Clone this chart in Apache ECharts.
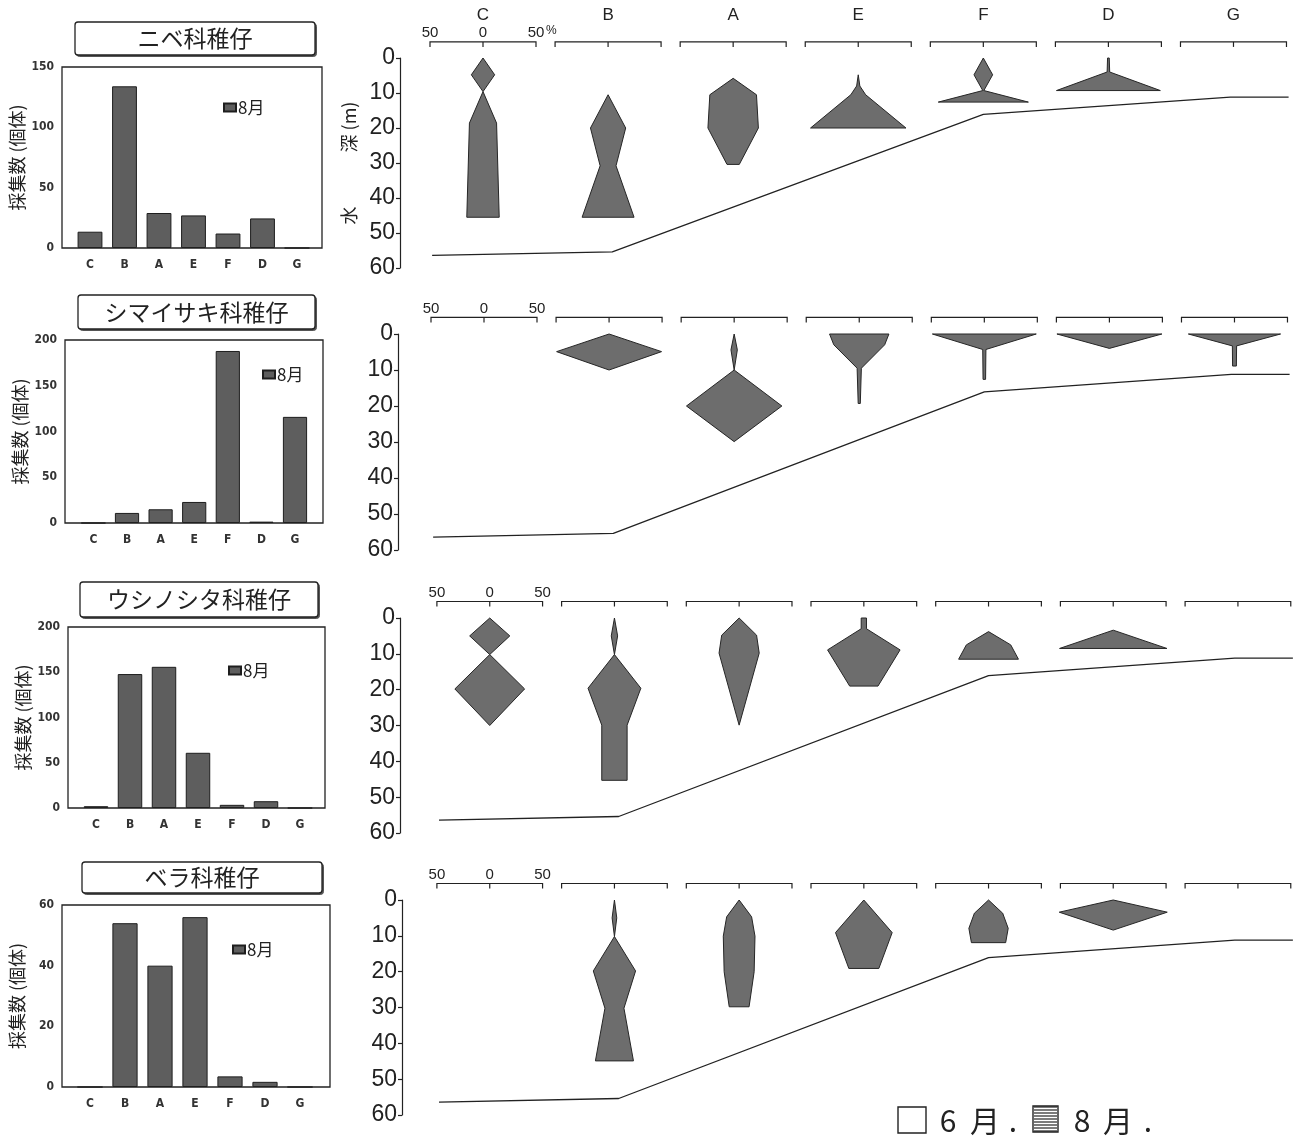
<!DOCTYPE html>
<html><head><meta charset="utf-8">
<script src="https://cdn.jsdelivr.net/npm/echarts@6/dist/echarts.min.js"></script>
<style>html,body{margin:0;padding:0;background:#fff}#c{width:1295px;height:1140px}</style>
</head><body><div id="c"></div>
<script>
// ---------------- data ----------------
const stations = ['C','B','A','E','F','D','G'];
const families = ['ニベ科稚仔','シマイサキ科稚仔','ウシノシタ科稚仔','ベラ科稚仔'];
const monthName = '8月';
// catch counts (個体) per station, August
const countNibe = [13.5,134,29,27,12,24.5,0];
const countShimaisaki = [0,11,15,23,188,1.5,116];
const countUshinoshita = [2,148,156,61,3.5,7.5,0];
const countBera = [0,54,40,56,3.5,1.7,0];
const countMax = [150,200,200,60];
const countStep = [50,50,50,20];
// depth axis (m)
const depthMin = 0, depthMax = 60, depthStep = 10;
// scale bar tick labels (%)
const scaleLabels = ['50','0','50'];
// sea floor profile [x in % units along transect, depth m]
const seafloor = [[-48,56.4],[122,55.4],[472,16.1],[705,11.2],[760,11.2]];
// kite profiles per station: [depth m, half width %]; null = none
const kiteNibe = [
  [[0,0],[4.8,11],[9.6,0],[18.6,12.8],[45.5,15.3]],
  [[10.5,0],[20,16.6],[30.8,7.5],[45.5,24.5]],
  [[5.8,0],[10.5,22],[20,23.8],[30.4,5.8]],
  [[4.8,0],[8,1.5],[10.5,7],[20,45]],
  [[0,0],[4.8,8.8],[9.3,0.5],[12.6,42.5]],
  [[0,0.8],[4,1.2],[9.3,49]],
  null];
const kiteShimaisaki = [
  null,
  [[0,0],[4.9,49.5],[10,0]],
  [[0,0],[4.4,3],[10,0],[20,45],[29.9,0]],
  [[0,28],[3,24],[9.5,2],[19.3,1]],
  [[0,49],[4.3,1.5],[12.6,1.2]],
  [[0,49.5],[4,0]],
  [[0,43.5],[3.3,2],[8.9,1.8]]];
const kiteUshinoshita = [
  [[0,0],[5,19],[10.2,0],[19.8,33],[30,0]],
  [[0,0],[5,3],[10.2,0],[19.6,25],[29.9,12],[45.3,12]],
  [[0,0],[4.8,16.5],[9.8,19],[29.9,0]],
  [[0,2.5],[3,2.5],[8.9,34.3],[19,13.4]],
  [[3.8,0],[7.5,21],[11.5,28.3]],
  [[3.4,0],[8.5,50.8]],
  null];
const kiteBera = [
  null,
  [[0,0],[5,2.2],[10.2,0],[19.8,20],[30.2,9],[44.9,18]],
  [[0,0],[4.7,11.8],[10.1,15],[20,14.2],[29.8,9.4]],
  [[0,0],[9.1,26.8],[19.1,14.2]],
  [[0,0],[3.7,13.4],[7.9,18.6],[11.9,16.2]],
  [[0,0],[3.4,51.1],[8.4,0]],
  null];

const counts = [countNibe, countShimaisaki, countUshinoshita, countBera];
const kites = [kiteNibe, kiteShimaisaki, kiteUshinoshita, kiteBera];

// ---------------- layout ----------------
const STEP = 118;          // station spacing in % units
const X_MIN = -80, X_MAX = 762, PX = 1.06;
const SCALE_DEPTH = -4.6;
const barBox = [[62,67,322,248],[65,340,323,523],[68,627,325,808],[62,905,330,1087]];
const barBand = [[72.75,314.25],[76.6,311.8],[79,317],[72.5,317.5]];
const titleBox = [[75,22,315,55],[78,295,315,329],[80,582,318,617],[82,862,322,893]];
const legendPos = [[223,99],[262,366],[228,662],[232,941]];
const kiteC = [483,484,490,490];
const kiteTop = [58,334,618,900];
const kiteH = [210,216,215,215];
const kiteAxisX = [400,398,400,402];

const CJK = '"Noto Sans CJK JP", sans-serif';
const NUM = '"Liberation Sans", Arial, sans-serif';
const INK = '#222';

const grid = [], xAxis = [], yAxis = [], series = [], legend = [], graphic = [];

for (let r = 0; r < 4; r++) {
  const [bx1, by1, bx2, by2] = barBox[r];
  const [l, rr] = barBand[r];
  grid.push({left: l, top: by1, width: rr - l, height: by2 - by1});
  xAxis.push({type:'category', gridIndex:r, data:stations,
    axisLine:{show:false}, axisTick:{show:false},
    axisLabel:{fontSize:12, fontWeight:'bold', fontFamily:'"DejaVu Sans Condensed", sans-serif', color:'#333', margin:11}});
  yAxis.push({type:'value', gridIndex:r, min:0, max:countMax[r], interval:countStep[r],
    offset: l - bx1,
    axisLine:{show:false, onZero:false}, axisTick:{show:false}, splitLine:{show:false},
    axisLabel:{fontSize:12, fontWeight:'bold', fontFamily:'"DejaVu Sans Condensed", sans-serif', color:'#333', margin:8},
    name:'採集数 (個体)', nameLocation:'middle', nameRotate:90, nameGap:36,
    nameTextStyle:{fontSize:18, fontFamily:CJK, color:INK}});
  series.push({type:'bar', name:monthName, xAxisIndex:r, yAxisIndex:r, data:counts[r],
    barWidth:'72%', itemStyle:{color:'#5e5e5e', borderColor:'#1e1e1e', borderWidth:1}});
  legend.push({data:[monthName], left:legendPos[r][0], top:legendPos[r][1], padding:0,
    itemWidth:12, itemHeight:8, itemGap:4, icon:'rect', selectedMode:false,
    textStyle:{fontSize:17, fontFamily:CJK, color:INK, padding:[0,0,0,-3]}});
  // frame and title box
  graphic.push({type:'rect', z:100, shape:{x:bx1, y:by1, width:bx2-bx1, height:by2-by1},
    style:{fill:null, stroke:INK, lineWidth:1.3}});
  const [tx1, ty1, tx2, ty2] = titleBox[r];
  graphic.push({type:'rect', z:100, shape:{x:tx1+1.5, y:ty1+1.5, width:tx2-tx1, height:ty2-ty1, r:3},
    style:{fill:'#555', stroke:'#555', lineWidth:1}});
  graphic.push({type:'rect', z:101, shape:{x:tx1, y:ty1, width:tx2-tx1, height:ty2-ty1, r:3},
    style:{fill:'#fff', stroke:INK, lineWidth:1.3}});
  graphic.push({type:'text', z:102, x:(tx1+tx2)/2, y:(ty1+ty2)/2,
    style:{text:families[r], fontSize:23, fontFamily:CJK, fill:INK, align:'center', verticalAlign:'middle'}});
}

function kiteRenderer(profiles) {
  return function (params, api) {
    const prof = profiles[params.dataIndex];
    if (!prof) return null;
    const cx = api.value(0);
    const right = prof.map(p => api.coord([cx + p[1], p[0]]));
    const left = prof.slice().reverse().map(p => api.coord([cx - p[1], p[0]]));
    return {type:'polygon', shape:{points:right.concat(left)},
      style:{fill:'#6d6d6d', stroke:'#262626', lineWidth:1}};
  };
}
function scaleRenderer(row) {
  return function (params, api) {
    const cx = api.value(0), sd = api.value(1);
    const L = api.coord([cx - 50, sd]), M = api.coord([cx, sd]), R = api.coord([cx + 50, sd]);
    const t = 5;
    const ch = [
      {type:'polyline', shape:{points:[[L[0], L[1] + t], L, R, [R[0], R[1] + t]]},
        style:{stroke:INK, lineWidth:1.2, fill:null}},
      {type:'line', shape:{x1:M[0], y1:M[1], x2:M[0], y2:M[1] + t}, style:{stroke:INK, lineWidth:1.2}}
    ];
    if (row === 0) {
      ch.push({type:'text', style:{text:stations[params.dataIndex], x:M[0], y:M[1] - 27,
        align:'center', verticalAlign:'middle', fontSize:17, fontFamily:NUM, fill:INK}});
    }
    if (params.dataIndex === 0) {
      [L, M, R].forEach((P, k) => ch.push({type:'text', style:{text:scaleLabels[k], x:P[0], y:P[1] - 9,
        align:'center', verticalAlign:'middle', fontSize:15, fontFamily:NUM, fill:INK}}));
      if (row === 0) ch.push({type:'text', style:{text:'%', x:R[0] + 10, y:R[1] - 11,
        align:'left', verticalAlign:'middle', fontSize:12, fontFamily:NUM, fill:INK}});
    }
    return {type:'group', children:ch};
  };
}

for (let r = 0; r < 4; r++) {
  const gi = 4 + r;
  const left = kiteC[r] - (0 - X_MIN) * PX;
  grid.push({left: left, top: kiteTop[r], width: (X_MAX - X_MIN) * PX, height: kiteH[r]});
  xAxis.push({type:'value', gridIndex:gi, min:X_MIN, max:X_MAX, show:false});
  const ya = {type:'value', gridIndex:gi, inverse:true, min:depthMin, max:depthMax, interval:depthStep,
    offset: left - kiteAxisX[r],
    axisLine:{show:true, onZero:false, lineStyle:{color:INK, width:1.2}},
    axisTick:{show:true, length:4, lineStyle:{color:INK, width:1.2}},
    splitLine:{show:false},
    axisLabel:{fontSize:23, fontFamily:NUM, color:INK, margin:5}};
  if (r === 0) {
    Object.assign(ya, {name:'水　　　深 (m)', nameLocation:'middle', nameRotate:90, nameGap:42,
      nameTextStyle:{fontSize:18, fontFamily:CJK, color:INK}});
  }
  yAxis.push(ya);
  series.push({type:'line', xAxisIndex:gi, yAxisIndex:gi, data:seafloor, symbol:'none',
    lineStyle:{color:INK, width:1.3}, silent:true, z:3});
  series.push({type:'custom', xAxisIndex:gi, yAxisIndex:gi, silent:true,
    data: stations.map((s, i) => [i * STEP, SCALE_DEPTH]), renderItem: scaleRenderer(r), z:4});
  series.push({type:'custom', xAxisIndex:gi, yAxisIndex:gi, silent:true,
    data: stations.map((s, i) => [i * STEP, 0]), renderItem: kiteRenderer(kites[r]), z:5});
}

// bottom legend  □6月.  ▤8月.
graphic.push({type:'rect', shape:{x:898, y:1107, width:28, height:26}, style:{fill:null, stroke:INK, lineWidth:1.4}});
const stripes = [];
for (let k = 0; k <= 8; k++) stripes.push({type:'line', shape:{x1:1034, y1:1107 + k * 3, x2:1057, y2:1107 + k * 3}, style:{stroke:'#333', lineWidth:1.3}});
graphic.push({type:'group', children:stripes});
graphic.push({type:'rect', shape:{x:1033, y:1106, width:25, height:26}, style:{fill:null, stroke:INK, lineWidth:1.4}});
[['6',948],['月',985],['.',1013],['8',1082],['月',1118],['.',1148]].forEach(([t, x]) =>
  graphic.push({type:'text', x:x, y:1121, style:{text:t, fontSize:30, fontFamily:CJK, fill:INK, align:'center', verticalAlign:'middle'}}));

const chart = echarts.init(document.getElementById('c'), null, {renderer:'canvas'});
chart.setOption({animation:false, backgroundColor:'#fff', grid, xAxis, yAxis, series, legend, graphic});
</script></body></html>
